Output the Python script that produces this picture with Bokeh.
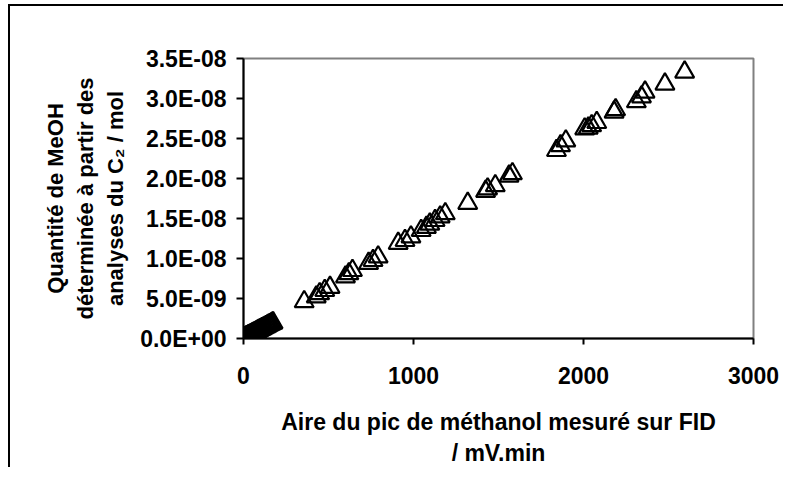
from bokeh.plotting import figure
from bokeh.models import Range1d, FixedTicker
from bokeh.embed import file_html
from bokeh.resources import INLINE

# Data: peak area (mV.min) vs MeOH quantity (mol)
area = [0, 3, 6, 8, 10, 12, 15, 18, 20, 22, 25, 28, 30, 33, 36, 40, 44, 48, 52, 56,
        60, 65, 70, 75, 80, 85, 90, 95, 100, 105, 110, 118, 125, 132, 140, 148, 155, 162, 170, 174,
        357, 428, 448, 478, 509, 600, 620, 641, 736, 762, 792, 910, 950, 985,
        1045, 1076, 1096, 1127, 1157, 1187, 1319, 1424, 1436, 1481, 1562, 1582,
        1841, 1865, 1896, 2007, 2028, 2048, 2078, 2180, 2189, 2311, 2341, 2362, 2479, 2595]
qty = [0.0, 0.03e-9, 0.07e-9, 0.09e-9, 0.11e-9, 0.14e-9, 0.17e-9, 0.20e-9, 0.23e-9, 0.25e-9,
       0.28e-9, 0.32e-9, 0.34e-9, 0.37e-9, 0.41e-9, 0.45e-9, 0.50e-9, 0.54e-9, 0.59e-9, 0.63e-9,
       0.68e-9, 0.73e-9, 0.79e-9, 0.85e-9, 0.90e-9, 0.96e-9, 1.02e-9, 1.07e-9, 1.13e-9, 1.19e-9,
       1.24e-9, 1.33e-9, 1.41e-9, 1.49e-9, 1.58e-9, 1.67e-9, 1.75e-9, 1.83e-9, 1.92e-9, 1.96e-9,
       4.6e-9, 5.2e-9, 5.6e-9, 6.0e-9, 6.4e-9, 7.7e-9, 8.1e-9, 8.5e-9, 9.4e-9, 9.75e-9, 10.2e-9,
       11.9e-9, 12.25e-9, 12.7e-9, 13.5e-9, 13.9e-9, 14.3e-9, 14.75e-9, 15.2e-9, 15.6e-9,
       16.9e-9, 18.4e-9, 18.7e-9, 19.1e-9, 20.3e-9, 20.6e-9, 23.5e-9, 24.1e-9, 24.7e-9,
       26.2e-9, 26.3e-9, 26.6e-9, 27.0e-9, 28.3e-9, 28.6e-9, 29.6e-9, 30.2e-9, 30.8e-9, 31.8e-9, 33.3e-9]

x_ticks = [0, 1000, 2000, 3000]
y_ticks = [0.0, 5e-9, 1e-8, 1.5e-8, 2e-8, 2.5e-8, 3e-8, 3.5e-8]
y_tick_labels = ["0.0E+00", "5.0E-09", "1.0E-08", "1.5E-08", "2.0E-08", "2.5E-08", "3.0E-08", "3.5E-08"]

x_title = "Aire du pic de méthanol mesuré sur FID\n/ mV.min"
y_title = "Quantité de MeOH\ndéterminée à partir des\nanalyses du C\u2082 / mol"

FONT = "Liberation Sans"

p = figure(width=775, height=463, output_backend="svg", toolbar_location=None,
           x_range=Range1d(0, 3000), y_range=Range1d(0, 3.5e-8),
           min_border_left=233, min_border_top=52, min_border_right=32, min_border_bottom=131)
p.styles = {"border-left": "2px solid black", "border-top": "2px solid black",
            "margin-left": "8px", "margin-top": "4px"}

p.scatter(area, qty, marker="triangle", size=19, line_color="black", line_width=2.2,
          fill_alpha=0)

p.grid.visible = False
p.outline_line_color = "#808080"
p.outline_line_width = 2
p.background_fill_color = "white"
p.border_fill_color = "white"

xa = p.xaxis[0]
xa.ticker = FixedTicker(ticks=x_ticks)
xa.minor_tick_line_color = None
xa.major_tick_in = 0
xa.major_tick_out = 6
xa.major_tick_line_width = 2
xa.axis_line_width = 2
xa.axis_line_color = "black"
xa.major_label_text_font = FONT
xa.major_label_text_font_style = "bold"
xa.major_label_text_font_size = "23px"
xa.major_label_text_color = "black"
xa.major_label_standoff = 22
xa.axis_label = x_title
xa.axis_label_text_font = FONT
xa.axis_label_text_font_style = "bold"
xa.axis_label_text_font_size = "23px"
xa.axis_label_text_color = "black"
xa.axis_label_standoff = 22

ya = p.yaxis[0]
ya.ticker = FixedTicker(ticks=y_ticks)
ya.major_label_overrides = {t: l for t, l in zip(y_ticks, y_tick_labels)}
ya.minor_tick_line_color = None
ya.major_tick_in = 0
ya.major_tick_out = 7
ya.major_tick_line_width = 2
ya.axis_line_width = 2
ya.axis_line_color = "black"
ya.major_label_text_font = FONT
ya.major_label_text_font_style = "bold"
ya.major_label_text_font_size = "23px"
ya.major_label_text_color = "black"
ya.major_label_standoff = 10
ya.axis_label = y_title
ya.axis_label_text_font = FONT
ya.axis_label_text_font_style = "bold"
ya.axis_label_text_font_size = "22px"
ya.axis_label_text_color = "black"
ya.axis_label_standoff = 9

open("out.html", "w").write(file_html(p, INLINE))
